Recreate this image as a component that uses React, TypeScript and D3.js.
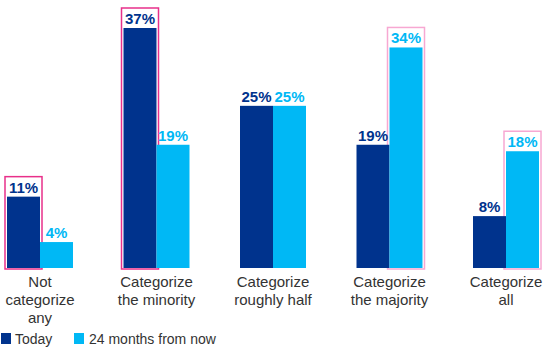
import React from 'react';
import * as d3 from 'd3';

const categories = ['Not categorize any', 'Categorize the minority', 'Categorize roughly half', 'Categorize the majority', 'Categorize all'];
const categoryLines = [['Not', 'categorize', 'any'], ['Categorize', 'the minority'], ['Categorize', 'roughly half'], ['Categorize', 'the majority'], ['Categorize', 'all']];
const series = ['Today', '24 months from now'];
const today = [11, 37, 25, 19, 8];
const future = [4, 19, 25, 34, 18];
// which bar of each group gets the highlight box: 0 = Today, 1 = 24 months, -1 none
const highlight = [0, 0, -1, 1, 1];

const colors = ['#00338D', '#00B8F5'];
const boxColors = ['#E8308A', '#F7A8D2'];

export default function App() {
  const width = 547;
  const height = 358;

  const x = d3.scalePoint<string>().domain(categories).range([40, 506]);
  const x1 = d3.scaleBand<string>().domain(series).range([-33, 33]).padding(0);
  const y = d3.scaleLinear().domain([0, 37]).range([268, 28]);
  const bw = x1.bandwidth();
  const values = [today, future];

  return (
    <svg width={width} height={height} style={{ position: 'absolute', left: 0, top: 0, fontFamily: 'Liberation Sans, Arial, sans-serif' }}>
      {categories.map((c, i) => {
        const cx = x(c)!;
        const h = highlight[i];
        return (
          <g key={c}>
            {h >= 0 && (
              <rect
                x={cx + x1(series[h])! - 2}
                y={y(values[h][i]) - 20}
                width={bw + 4}
                height={y(0) - y(values[h][i]) + 21}
                fill="none"
                stroke={boxColors[i < 2 ? 0 : 1]}
                strokeWidth={1.5}
              />
            )}
            {series.map((s, si) => (
              <g key={s}>
                <rect x={cx + x1(s)!} y={y(values[si][i])} width={bw} height={y(0) - y(values[si][i])} fill={colors[si]} />
                <text
                  x={cx + x1(s)! + bw / 2}
                  y={y(values[si][i]) - 4}
                  textAnchor="middle"
                  fontSize={15}
                  fontWeight="bold"
                  fill={colors[si]}
                >
                  {values[si][i]}%
                </text>
              </g>
            ))}
            {categoryLines[i].map((l, li) => (
              <text key={li} x={cx} y={287 + li * 18} textAnchor="middle" fontSize={15} fill="#333">
                {l}
              </text>
            ))}
          </g>
        );
      })}
      <g>
        <rect x={1} y={333} width={10} height={11} fill={colors[0]} />
        <text x={15} y={344} fontSize={14} fill="#333">{series[0]}</text>
        <rect x={74} y={333} width={10} height={11} fill={colors[1]} />
        <text x={89} y={344} fontSize={14} fill="#333">{series[1]}</text>
      </g>
    </svg>
  );
}
